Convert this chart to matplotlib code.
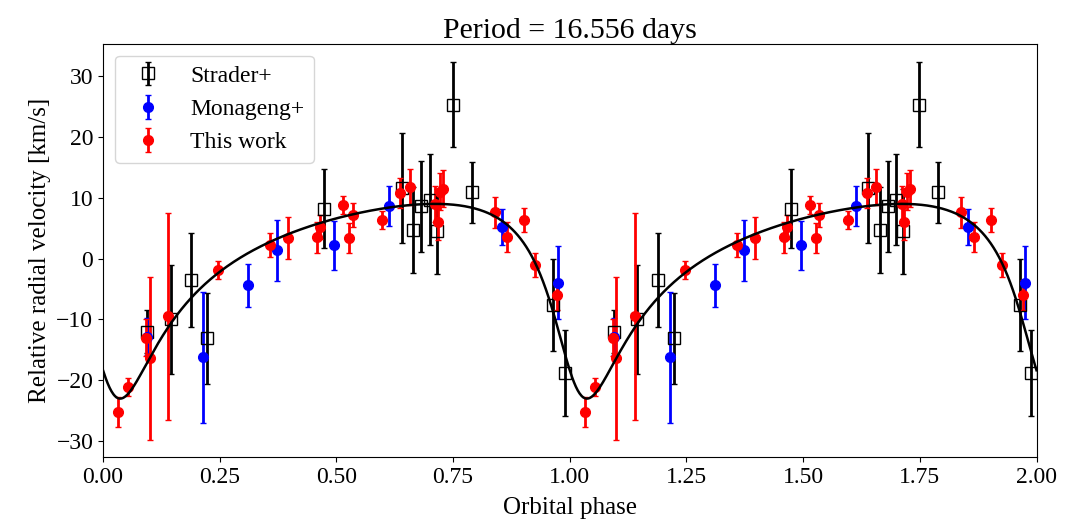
import numpy as np
import matplotlib
matplotlib.use("Agg")
import matplotlib.pyplot as plt

plt.rcParams['font.family'] = ['Liberation Serif', 'DejaVu Serif']
plt.rcParams['font.size'] = 18

# Strader+ (phase, rv, err)
strader_phase = [0.095, 0.145, 0.188, 0.223, 0.473, 0.640, 0.664, 0.681, 0.700, 0.715, 0.749, 0.790, 0.964, 0.989]
strader_rv = [-12.0, -10.0, -3.5, -13.1, 8.2, 11.6, 4.7, 8.6, 9.7, 4.5, 25.3, 10.9, -7.6, -18.8]
strader_err = [3.5, 9.0, 7.7, 7.5, 6.5, 9.0, 7.0, 7.5, 7.5, 7.0, 7.0, 5.0, 7.6, 7.0]

# Monageng+
mon_phase = [0.094, 0.214, 0.311, 0.373, 0.495, 0.613, 0.854, 0.975]
mon_rv = [-12.8, -16.2, -4.4, 1.4, 2.2, 8.6, 5.2, -4.0]
mon_err = [3.0, 10.8, 3.6, 5.0, 4.0, 3.3, 3.0, 6.0]

# This work
tw_phase = [0.032, 0.054, 0.092, 0.100, 0.140, 0.246, 0.358, 0.397, 0.458, 0.465,
            0.514, 0.527, 0.535, 0.597, 0.637, 0.657, 0.712, 0.717, 0.722, 0.728,
            0.839, 0.865, 0.902, 0.925, 0.972]
tw_rv = [-25.2, -21.1, -13.0, -16.4, -9.5, -1.9, 2.2, 3.4, 3.5, 5.2,
         8.8, 3.4, 7.2, 6.3, 10.8, 11.8, 9.0, 6.0, 11.0, 11.5,
         7.6, 3.6, 6.3, -1.0, -6.0]
tw_err = [2.5, 1.5, 3.0, 13.4, 17.0, 1.5, 2.0, 3.5, 2.5, 2.0,
          1.5, 2.5, 2.0, 1.5, 2.5, 3.0, 3.0, 3.0, 3.0, 3.0,
          2.5, 2.5, 2.0, 2.0, 2.5]

# orbital fit parameters
period = 16.556
K_amp = 16.0
ecc = 0.5
omega = np.radians(150.0)
v_min = -23.0
gamma = v_min + K_amp - K_amp * ecc * np.cos(omega)
t_peri = 0.012


def kepler_rv(phase):
    M = 2 * np.pi * (phase - t_peri)
    E = M.copy()
    for _ in range(60):
        E = E - (E - ecc * np.sin(E) - M) / (1 - ecc * np.cos(E))
    nu = 2 * np.arctan2(np.sqrt(1 + ecc) * np.sin(E / 2), np.sqrt(1 - ecc) * np.cos(E / 2))
    return K_amp * (np.cos(nu + omega) + ecc * np.cos(omega)) + gamma


fig = plt.figure(figsize=(10.73, 5.22), dpi=100)
ax = fig.add_axes([0.096, 0.1245, 0.87, 0.7915])


def two_cycles(ph, rv, err):
    ph = np.asarray(ph)
    return (np.concatenate([ph, ph + 1]), np.concatenate([rv, rv]), np.concatenate([err, err]))


x, y, e = two_cycles(strader_phase, strader_rv, strader_err)
ax.errorbar(x, y, yerr=e, fmt='s', mfc='none', mec='k', ecolor='k', color='k',
            ms=8, capsize=2, elinewidth=2, label='Strader+')
x, y, e = two_cycles(mon_phase, mon_rv, mon_err)
ax.errorbar(x, y, yerr=e, fmt='o', color='b', ms=7, capsize=2, elinewidth=2, label='Monageng+')
x, y, e = two_cycles(tw_phase, tw_rv, tw_err)
ax.errorbar(x, y, yerr=e, fmt='o', color='r', ms=7, capsize=2, elinewidth=2, label='This work')

ph = np.linspace(0, 2, 1000)
ax.plot(ph, kepler_rv(ph), color='k', lw=1.8, zorder=5)

ax.set_xlim(0, 2)
ax.set_ylim(-32.6, 35.3)
ax.set_xticks(np.arange(0, 2.01, 0.25))
ax.set_yticks(np.arange(-30, 31, 10))
ax.tick_params(labelsize=17)
ax.set_xlabel('Orbital phase', labelpad=7)
ax.set_ylabel('Relative radial velocity [km/s]')
ax.set_title('Period = %.3f days' % period, fontsize=21.5, pad=4)
ax.legend(loc='upper left', fontsize=17)

fig.savefig('out.png', dpi=100)
